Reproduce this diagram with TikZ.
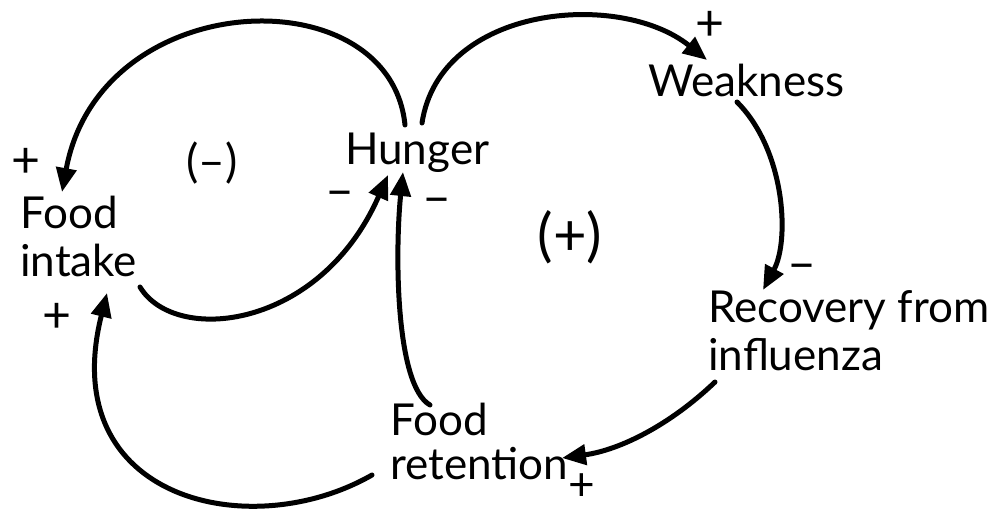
\documentclass[tikz,border=0pt]{standalone}
\usepackage{fontspec}
\setmainfont{Lato}
\usetikzlibrary{arrows.meta}
\begin{document}
\begin{tikzpicture}[x=1pt,y=-1pt,
  lbl/.style={inner sep=0pt,anchor=base west,align=left,font=\fontsize{44}{48}\selectfont},
  sgn/.style={inner sep=0pt,font=\fontsize{50}{50}\selectfont},
  loopl/.style={inner sep=0pt},
  arr/.style={line width=5pt,line cap=round,-{Triangle[length=24pt,width=20pt]}}]
\useasboundingbox (0,0) rectangle (992,510);
% variables (anchor = baseline of the last line)
\node[lbl] (hunger) at (345,165) {Hunger};
\node[lbl] (weak) at (648,97) {Weakness};
\node[lbl] (intake) at (20,277) {Food\\intake};
\node[lbl] (recov) at (708,370) {Recovery from\\influenza};
\node[lbl] (retent) at (390,479) {Food\\[-4pt]retention};
% loop labels
\node[loopl,font=\fontsize{46}{46}\selectfont] (lneg) at (212,163) {(–)};
\node[loopl,font=\fontsize{58}{58}\selectfont] (lpos) at (570,237) {(+)};
% polarity signs
\node[sgn] (s1) at (26,163) {+};
\node[sgn] (s2) at (340,199) {–};
\node[sgn] (s3) at (437,206) {–};
\node[sgn] (s4) at (710,26) {+};
\node[sgn] (s5) at (802,272) {–};
\node[sgn] (s6) at (57,318) {+};
\node[sgn,font=\fontsize{46}{46}\selectfont] (s7) at (582,487) {+};
% connectors
\draw[arr] ([shift={(60,-40)}]hunger.base west) .. controls (390,-25) and (100,-15) .. ([shift={(42,-85)}]intake.base west);
\draw[arr] ([shift={(120,10)}]intake.base west) .. controls (175,345) and (320,330) .. ([shift={(43,10)}]hunger.base west);
\draw[arr] ([shift={(77,-42)}]hunger.base west) .. controls (440,5) and (620,-10) .. ([shift={(59,-37)}]weak.base west);
\draw[arr] ([shift={(89,5)}]weak.base west) .. controls (785,150) and (790,240) .. ([shift={(55,-80)}]recov.base west);
\draw[arr] ([shift={(7,12)}]recov.base west) .. controls (670,425) and (620,450) .. ([shift={(172,-21)}]retent.base west);
\draw[arr] ([shift={(40,-74)}]retent.base west) .. controls (395,385) and (395,250) .. ([shift={(58,7)}]hunger.base west);
\draw[arr] ([shift={(-18,-4)}]retent.base west) .. controls (250,545) and (55,500) .. ([shift={(87,16)}]intake.base west);
\end{tikzpicture}
\end{document}
